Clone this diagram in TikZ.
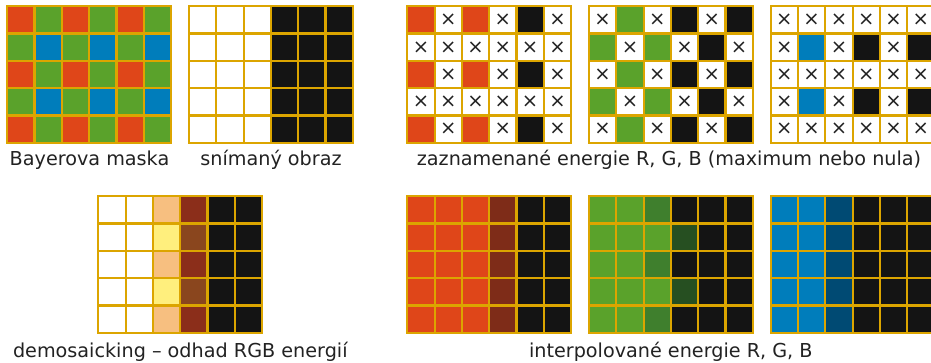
\documentclass[tikz,border=0pt]{standalone}
\usepackage{fontspec}
\setmainfont{DejaVu Sans}
\definecolor{cR}{HTML}{DF4619}
\definecolor{cG}{HTML}{5AA22B}
\definecolor{cB}{HTML}{007DBB}
\definecolor{cK}{HTML}{141414}
\definecolor{cW}{HTML}{FFFFFF}
\definecolor{cGold}{HTML}{DCA500}
\definecolor{cPeach}{HTML}{F7BF80}
\definecolor{cYel}{HTML}{FFEF7D}
\definecolor{cDR}{HTML}{8B2E1A}
\definecolor{cBr}{HTML}{8A461E}
\definecolor{cRd}{HTML}{7E2C18}
\definecolor{cGd}{HTML}{3F7F2D}
\definecolor{cGdd}{HTML}{264F21}
\definecolor{cBd}{HTML}{004A73}
\definecolor{cTxt}{HTML}{222222}
\def\cellX{X}
\def\csz{27.3}
% #1 id, #2 x0, #3 y0, #4 rows
\newcommand\pixgrid[4]{%
  \foreach \row [count=\r from 0] in {#4}{%
    \foreach \col [count=\c from 0] in \row{%
      \ifx\col\cellX
        \fill[cW] ({#2+\c*\csz},{#3+\r*\csz}) rectangle ++(\csz,\csz);
        \node[xmark] (#1-\r-\c) at ({#2+(\c+0.5)*\csz},{#3+(\r+0.5)*\csz}) {×};
      \else
        \fill[\col] ({#2+\c*\csz},{#3+\r*\csz}) rectangle ++(\csz,\csz);
      \fi
    }%
  }%
  \foreach \i in {0,...,5}{\draw[gridline] ({#2},{#3+\i*\csz}) -- ++({6*\csz},0);}
  \foreach \j in {0,...,6}{\draw[gridline] ({#2+\j*\csz},{#3}) -- ++(0,{5*\csz});}
}
\tikzset{
  gridline/.style={draw=cGold, line width=2.2pt, line cap=rect},
  xmark/.style={text=cTxt, font=\fontsize{19.5}{19.5}\selectfont, inner sep=0pt},
  caption/.style={text=cTxt, font=\fontsize{19.2}{22}\selectfont, anchor=base, inner sep=0pt}
}
\begin{document}
\begin{tikzpicture}[x=1pt,y=-1pt]
\useasboundingbox (0,0) rectangle (931,363);
\fill[white] (0,0) rectangle (931,363);
% top row
\pixgrid{bay}{7.2}{6.3}{{cR,cG,cR,cG,cR,cG},{cG,cB,cG,cB,cG,cB},{cR,cG,cR,cG,cR,cG},{cG,cB,cG,cB,cG,cB},{cR,cG,cR,cG,cR,cG}}
\pixgrid{scn}{189}{6.3}{{cW,cW,cW,cK,cK,cK},{cW,cW,cW,cK,cK,cK},{cW,cW,cW,cK,cK,cK},{cW,cW,cW,cK,cK,cK},{cW,cW,cW,cK,cK,cK}}
\pixgrid{recR}{407.3}{6.3}{{cR,X,cR,X,cK,X},{X,X,X,X,X,X},{cR,X,cR,X,cK,X},{X,X,X,X,X,X},{cR,X,cR,X,cK,X}}
\pixgrid{recG}{589}{6.3}{{X,cG,X,cK,X,cK},{cG,X,cG,X,cK,X},{X,cG,X,cK,X,cK},{cG,X,cG,X,cK,X},{X,cG,X,cK,X,cK}}
\pixgrid{recB}{770.7}{6.3}{{X,X,X,X,X,X},{X,cB,X,cK,X,cK},{X,X,X,X,X,X},{X,cB,X,cK,X,cK},{X,X,X,X,X,X}}
% bottom row
\pixgrid{dem}{98.3}{196.2}{{cW,cW,cPeach,cDR,cK,cK},{cW,cW,cYel,cBr,cK,cK},{cW,cW,cPeach,cDR,cK,cK},{cW,cW,cYel,cBr,cK,cK},{cW,cW,cPeach,cDR,cK,cK}}
\pixgrid{intR}{407.3}{196.2}{{cR,cR,cR,cRd,cK,cK},{cR,cR,cR,cRd,cK,cK},{cR,cR,cR,cRd,cK,cK},{cR,cR,cR,cRd,cK,cK},{cR,cR,cR,cRd,cK,cK}}
\pixgrid{intG}{589}{196.2}{{cG,cG,cGd,cK,cK,cK},{cG,cG,cG,cGdd,cK,cK},{cG,cG,cGd,cK,cK,cK},{cG,cG,cG,cGdd,cK,cK},{cG,cG,cGd,cK,cK,cK}}
\pixgrid{intB}{770.7}{196.2}{{cB,cB,cBd,cK,cK,cK},{cB,cB,cBd,cK,cK,cK},{cB,cB,cBd,cK,cK,cK},{cB,cB,cBd,cK,cK,cK},{cB,cB,cBd,cK,cK,cK}}
% captions
\node[caption] (capBay) at (89.5,166) {Bayerova maska};
\node[caption] (capScn) at (271,166) {snímaný obraz};
\node[caption] (capRec) at (669,166) {zaznamenané energie R, G, B (maximum nebo nula)};
\node[caption] (capDem) at (180.3,357) {demosaicking – odhad RGB energií};
\node[caption] (capInt) at (670.8,357) {interpolované energie R, G, B};
\end{tikzpicture}
\end{document}
